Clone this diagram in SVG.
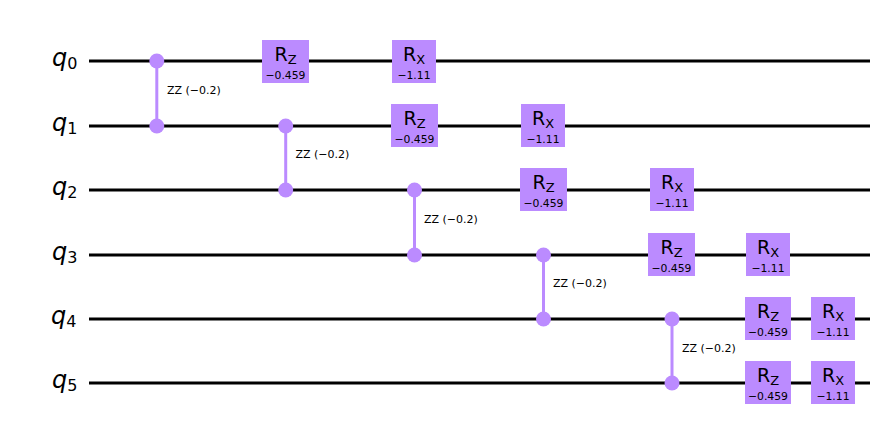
<svg xmlns="http://www.w3.org/2000/svg" width="885" height="432" viewBox="0 0 885 432">
<style>
text{font-family:"DejaVu Sans",sans-serif;fill:#000}
.w{stroke:#000;stroke-width:3;fill:none}
.c{stroke:#bb8bff;stroke-width:3;fill:none}
.d{fill:#bb8bff}
.b{fill:#bb8bff}
.q{font-size:24px;font-style:italic}
.s{font-size:16px;font-style:normal}
.n{font-size:19px}
.m{font-size:13px}
.l{font-size:11px}
.p{font-size:10.800px}
</style>
<rect width="885" height="432" fill="#fff"/>
<g id="wires">
<line class="w" x1="89" y1="61" x2="870" y2="61"/>
<line class="w" x1="89" y1="126" x2="870" y2="126"/>
<line class="w" x1="89" y1="190" x2="870" y2="190"/>
<line class="w" x1="89" y1="255" x2="870" y2="255"/>
<line class="w" x1="89" y1="319" x2="870" y2="319"/>
<line class="w" x1="89" y1="383" x2="870" y2="383"/>
</g>
<g id="labels">
<text class="q" x="52" y="66">q<tspan class="s" dy="2.500">0</tspan></text>
<text class="q" x="52" y="131">q<tspan class="s" dy="2.500">1</tspan></text>
<text class="q" x="52" y="195">q<tspan class="s" dy="2.500">2</tspan></text>
<text class="q" x="52" y="260">q<tspan class="s" dy="2.500">3</tspan></text>
<text class="q" x="51" y="324">q<tspan class="s" dy="2.500">4</tspan></text>
<text class="q" x="52" y="388">q<tspan class="s" dy="2.500">5</tspan></text>
</g>
<g id="connectors">
<line class="c" x1="156.800" y1="61" x2="156.800" y2="126"/>
<line class="c" x1="285.700" y1="126" x2="285.700" y2="190"/>
<line class="c" x1="414.500" y1="190" x2="414.500" y2="255"/>
<line class="c" x1="543.500" y1="255" x2="543.500" y2="319"/>
<line class="c" x1="672" y1="319" x2="672" y2="383"/>
</g>
<g id="zz0"><circle class="d" cx="156.800" cy="61" r="7.500"/><circle class="d" cx="156.800" cy="126" r="7.500"/><text class="l" x="167" y="93.500">ZZ (−0.2)</text></g>
<g id="zz1"><circle class="d" cx="285.700" cy="126" r="7.500"/><circle class="d" cx="285.700" cy="190" r="7.500"/><text class="l" x="295.500" y="157.500">ZZ (−0.2)</text></g>
<g id="zz2"><circle class="d" cx="414.500" cy="190" r="7.500"/><circle class="d" cx="414.500" cy="255" r="7.500"/><text class="l" x="424" y="222.500">ZZ (−0.2)</text></g>
<g id="zz3"><circle class="d" cx="543.500" cy="255" r="7.500"/><circle class="d" cx="543.500" cy="319" r="7.500"/><text class="l" x="553" y="286.500">ZZ (−0.2)</text></g>
<g id="zz4"><circle class="d" cx="672" cy="319" r="7.500"/><circle class="d" cx="672" cy="383" r="7.500"/><text class="l" x="682" y="351.500">ZZ (−0.2)</text></g>
<g id="rz0"><rect class="b" x="262" y="40" width="47" height="43"/><text class="n" x="285.500" y="61" text-anchor="middle">R<tspan class="m" dy="2.500">Z</tspan></text><text class="p" x="285.500" y="78.500" text-anchor="middle">−0.459</text></g>
<g id="rx0"><rect class="b" x="392" y="40" width="44" height="43"/><text class="n" x="414" y="61" text-anchor="middle">R<tspan class="m" dy="2.500">X</tspan></text><text class="p" x="414" y="78.500" text-anchor="middle">−1.11</text></g>
<g id="rz1"><rect class="b" x="391" y="104" width="47" height="43"/><text class="n" x="414.500" y="125" text-anchor="middle">R<tspan class="m" dy="2.500">Z</tspan></text><text class="p" x="414.500" y="142.500" text-anchor="middle">−0.459</text></g>
<g id="rx1"><rect class="b" x="521" y="104" width="44" height="43"/><text class="n" x="543" y="125" text-anchor="middle">R<tspan class="m" dy="2.500">X</tspan></text><text class="p" x="543" y="142.500" text-anchor="middle">−1.11</text></g>
<g id="rz2"><rect class="b" x="520" y="168" width="47" height="43"/><text class="n" x="543.500" y="189" text-anchor="middle">R<tspan class="m" dy="2.500">Z</tspan></text><text class="p" x="543.500" y="206.500" text-anchor="middle">−0.459</text></g>
<g id="rx2"><rect class="b" x="650" y="168" width="44" height="43"/><text class="n" x="672" y="189" text-anchor="middle">R<tspan class="m" dy="2.500">X</tspan></text><text class="p" x="672" y="206.500" text-anchor="middle">−1.11</text></g>
<g id="rz3"><rect class="b" x="648" y="233" width="47" height="43"/><text class="n" x="671.500" y="254" text-anchor="middle">R<tspan class="m" dy="2.500">Z</tspan></text><text class="p" x="671.500" y="271.500" text-anchor="middle">−0.459</text></g>
<g id="rx3"><rect class="b" x="746" y="233" width="44" height="43"/><text class="n" x="768" y="254" text-anchor="middle">R<tspan class="m" dy="2.500">X</tspan></text><text class="p" x="768" y="271.500" text-anchor="middle">−1.11</text></g>
<g id="rz4"><rect class="b" x="745" y="297" width="46" height="43"/><text class="n" x="768" y="318" text-anchor="middle">R<tspan class="m" dy="2.500">Z</tspan></text><text class="p" x="768" y="335.500" text-anchor="middle">−0.459</text></g>
<g id="rx4"><rect class="b" x="811" y="297" width="44" height="43"/><text class="n" x="833" y="318" text-anchor="middle">R<tspan class="m" dy="2.500">X</tspan></text><text class="p" x="833" y="335.500" text-anchor="middle">−1.11</text></g>
<g id="rz5"><rect class="b" x="745" y="361" width="46" height="43"/><text class="n" x="768" y="382" text-anchor="middle">R<tspan class="m" dy="2.500">Z</tspan></text><text class="p" x="768" y="399.500" text-anchor="middle">−0.459</text></g>
<g id="rx5"><rect class="b" x="811" y="361" width="44" height="43"/><text class="n" x="833" y="382" text-anchor="middle">R<tspan class="m" dy="2.500">X</tspan></text><text class="p" x="833" y="399.500" text-anchor="middle">−1.11</text></g>
</svg>
